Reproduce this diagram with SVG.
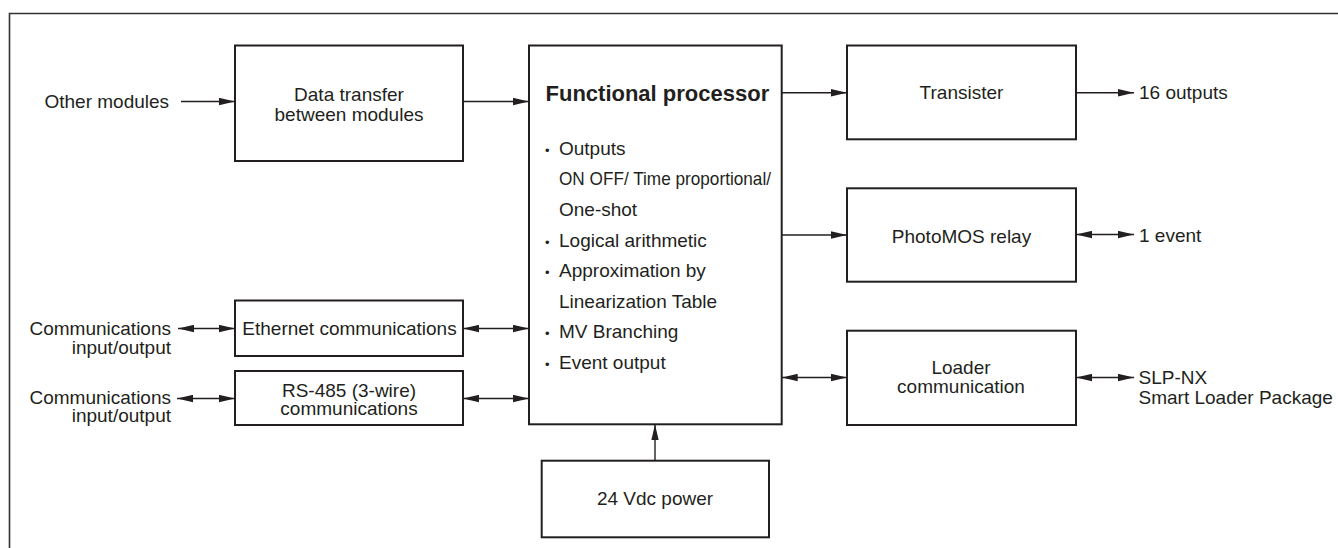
<svg xmlns="http://www.w3.org/2000/svg" width="1338" height="548" viewBox="0 0 1338 548">
<style>
  .box { fill: #fff; stroke: #231f20; stroke-width: 2; }
  .frame { fill: none; stroke: #333; stroke-width: 1.6; }
  .t { font-family: "Liberation Sans", Arial, sans-serif; font-size: 19px; fill: #231f20; }
  .c { text-anchor: middle; }
  .e { text-anchor: end; }
  .b { font-weight: bold; font-size: 22px; }
  .dot { font-size: 13px; }
  .conn line { stroke: #231f20; stroke-width: 1.4; }
</style>
<defs>
  <marker id="ah" markerWidth="16" markerHeight="8" refX="16" refY="4" orient="auto-start-reverse" markerUnits="userSpaceOnUse">
    <path d="M0,0.3 L16,4 L0,7.7 Z" fill="#231f20"/>
  </marker>
</defs>
<rect width="1338" height="548" fill="#fff"/>
<path class="frame" d="M9.5,548 V13.5 H1338"/>

<g id="data-transfer">
  <rect class="box" x="235" y="45.5" width="228" height="115.5"/>
  <text class="t c" x="349" y="101">Data transfer</text>
  <text class="t c" x="349" y="120.5">between modules</text>
</g>
<g id="functional-processor">
  <rect class="box" x="529" y="45.5" width="252.7" height="378.8"/>
  <text class="t b" x="545.5" y="100.5">Functional processor</text>
  <text class="t dot" x="545" y="155">•</text><text class="t" x="559" y="155">Outputs</text>
  <text class="t" x="559" y="185" textLength="212" lengthAdjust="spacingAndGlyphs">ON OFF/ Time proportional/</text>
  <text class="t" x="559" y="215.5">One-shot</text>
  <text class="t dot" x="545" y="246.5">•</text><text class="t" x="559" y="246.5">Logical arithmetic</text>
  <text class="t dot" x="545" y="277">•</text><text class="t" x="559" y="277">Approximation by</text>
  <text class="t" x="559" y="307.5">Linearization Table</text>
  <text class="t dot" x="545" y="338">•</text><text class="t" x="559" y="338">MV Branching</text>
  <text class="t dot" x="545" y="368.5">•</text><text class="t" x="559" y="368.5">Event output</text>
</g>
<g id="transister">
  <rect class="box" x="847" y="45.5" width="229" height="93.8"/>
  <text class="t c" x="961.5" y="99">Transister</text>
</g>
<g id="photomos">
  <rect class="box" x="847" y="188.3" width="229" height="93.4"/>
  <text class="t c" x="961.5" y="242.5">PhotoMOS relay</text>
</g>
<g id="loader">
  <rect class="box" x="847" y="330.7" width="229" height="94.3"/>
  <text class="t c" x="961" y="373.5">Loader</text>
  <text class="t c" x="961" y="392.5">communication</text>
</g>
<g id="ethernet">
  <rect class="box" x="235" y="300.5" width="228" height="55.5"/>
  <text class="t c" x="349.5" y="335">Ethernet communications</text>
</g>
<g id="rs485">
  <rect class="box" x="235" y="371" width="228" height="54"/>
  <text class="t c" x="349" y="396.5">RS-485 (3-wire)</text>
  <text class="t c" x="349" y="415">communications</text>
</g>
<g id="power">
  <rect class="box" x="541.7" y="460.7" width="227.3" height="76.6"/>
  <text class="t c" x="655" y="505">24 Vdc power</text>
</g>

<g id="labels">
  <text class="t" x="44.5" y="108">Other modules</text>
  <text class="t e" x="171" y="335">Communications</text>
  <text class="t e" x="171" y="354">input/output</text>
  <text class="t e" x="171" y="403.5">Communications</text>
  <text class="t e" x="171" y="422">input/output</text>
  <text class="t" x="1139" y="99">16 outputs</text>
  <text class="t" x="1139" y="242">1 event</text>
  <text class="t" x="1138.5" y="383.5">SLP-NX</text>
  <text class="t" x="1138.5" y="403.5">Smart Loader Package</text>
</g>

<g id="connectors" class="conn">
  <line x1="181" y1="101.5" x2="235" y2="101.5" marker-end="url(#ah)"/>
  <line x1="463" y1="101.5" x2="529" y2="101.5" marker-end="url(#ah)"/>
  <line x1="781.7" y1="92.7" x2="847" y2="92.7" marker-end="url(#ah)"/>
  <line x1="1076" y1="92.7" x2="1134" y2="92.7" marker-end="url(#ah)"/>
  <line x1="781.7" y1="235" x2="847" y2="235" marker-end="url(#ah)"/>
  <line x1="1076" y1="234.5" x2="1134" y2="234.5" marker-start="url(#ah)" marker-end="url(#ah)"/>
  <line x1="781.7" y1="377.5" x2="847" y2="377.5" marker-start="url(#ah)" marker-end="url(#ah)"/>
  <line x1="1076" y1="377.5" x2="1134" y2="377.5" marker-start="url(#ah)" marker-end="url(#ah)"/>
  <line x1="178" y1="328.5" x2="235" y2="328.5" marker-start="url(#ah)" marker-end="url(#ah)"/>
  <line x1="463" y1="328.5" x2="529" y2="328.5" marker-start="url(#ah)" marker-end="url(#ah)"/>
  <line x1="177" y1="398.5" x2="235" y2="398.5" marker-start="url(#ah)" marker-end="url(#ah)"/>
  <line x1="463" y1="398.5" x2="529" y2="398.5" marker-start="url(#ah)" marker-end="url(#ah)"/>
  <line x1="655" y1="460.7" x2="655" y2="424.3" marker-end="url(#ah)"/>
</g>
</svg>
